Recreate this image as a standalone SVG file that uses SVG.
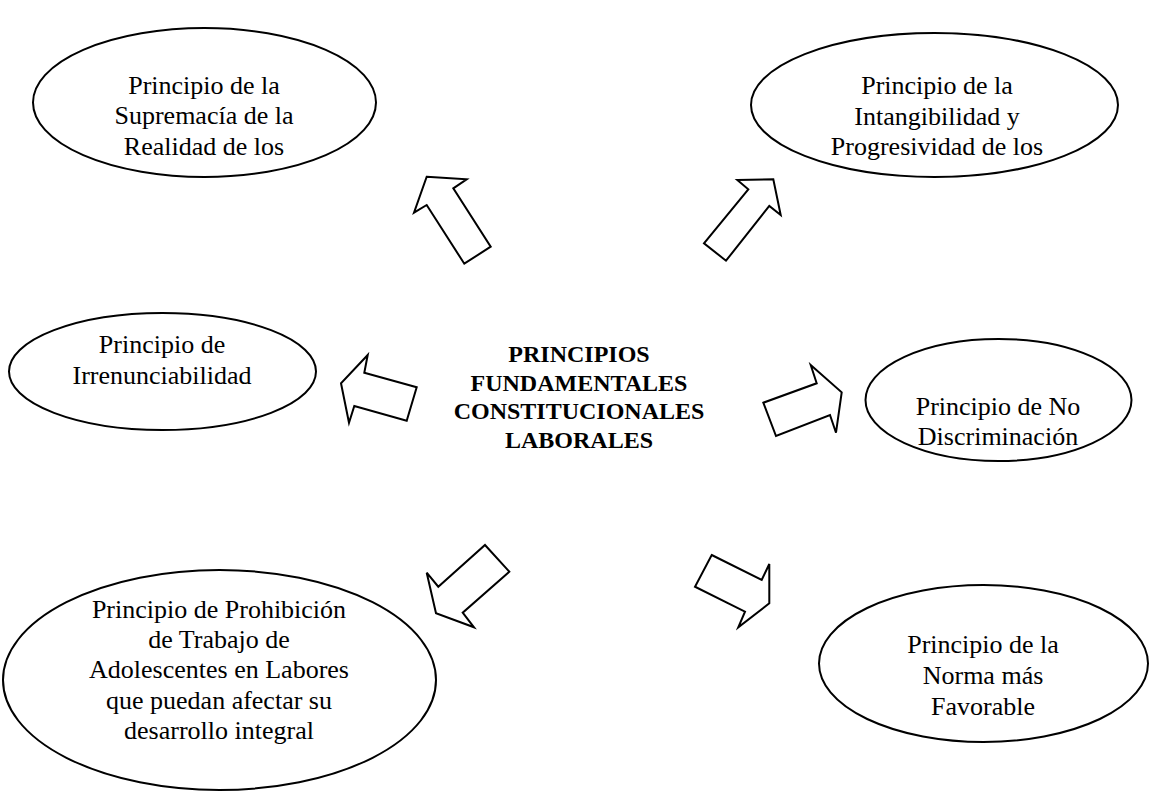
<svg xmlns="http://www.w3.org/2000/svg" width="1156" height="791" viewBox="0 0 1156 791">
<style>
.node ellipse{fill:#fff;stroke:#000;stroke-width:2}
.t{font-family:"Liberation Serif","Times New Roman",serif;font-size:26px;fill:#000;text-anchor:middle}
.b{font-family:"Liberation Serif","Times New Roman",serif;font-size:24px;font-weight:bold;fill:#000;text-anchor:middle}
.arrow{fill:#fff;stroke:#000;stroke-width:2;stroke-linejoin:miter}
</style>
<rect width="1156" height="791" fill="#fff"/>
<g id="connectors">
<polygon class="arrow" points="426.7,176.7 466.7,179.3 453.3,188.3 490.7,246.7 464.3,263.7 426.7,205 414,212.7"/>
<polygon class="arrow" points="737.3,180 773.3,179.3 780.7,215 769.3,206 726,260.7 704,243.3 748.3,189.3"/>
<polygon class="arrow" points="367.7,355 364.3,372.7 416.7,387.3 406.7,420.7 354.3,406 349,422.7 341,383.3"/>
<polygon class="arrow" points="810.7,365 841.7,392.3 836,432.7 830,415 776,436 763.3,402.7 816.7,383.3"/>
<polygon class="arrow" points="485,545 509.3,571.7 462.7,612.7 474,627.3 436,613.3 426.7,572.7 438.3,586.7"/>
<polygon class="arrow" points="711.7,555 761.7,580 769.3,564 769.3,603.3 738.3,627.3 745,611.7 695,586.7"/>
</g>
<g id="center">
<text class="b" x="579" y="362">PRINCIPIOS</text>
<text class="b" x="579" y="391">FUNDAMENTALES</text>
<text class="b" x="579" y="419">CONSTITUCIONALES</text>
<text class="b" x="579" y="448">LABORALES</text>
</g>
<g id="n1" class="node">
<ellipse cx="204.5" cy="102.5" rx="171.5" ry="74.5"/>
<text class="t" x="204" y="94">Principio de la</text>
<text class="t" x="204" y="124">Supremacía de la</text>
<text class="t" x="204" y="155">Realidad de los</text>
</g>
<g id="n2" class="node">
<ellipse cx="934.5" cy="105" rx="183.5" ry="72"/>
<text class="t" x="937" y="94">Principio de la</text>
<text class="t" x="937" y="125">Intangibilidad y</text>
<text class="t" x="937" y="155">Progresividad de los</text>
</g>
<g id="n3" class="node">
<ellipse cx="162.5" cy="371.5" rx="153.5" ry="58.5"/>
<text class="t" x="162" y="353">Principio de</text>
<text class="t" x="162" y="384">Irrenunciabilidad</text>
</g>
<g id="n4" class="node">
<ellipse cx="998.5" cy="400" rx="133" ry="61"/>
<text class="t" x="998" y="415">Principio de No</text>
<text class="t" x="998" y="445">Discriminación</text>
</g>
<g id="n5" class="node">
<ellipse cx="219.5" cy="680" rx="216.5" ry="110"/>
<text class="t" x="219" y="618">Principio de Prohibición</text>
<text class="t" x="219" y="648">de Trabajo de</text>
<text class="t" x="219" y="678">Adolescentes en Labores</text>
<text class="t" x="219" y="709">que puedan afectar su</text>
<text class="t" x="219" y="739">desarrollo integral</text>
</g>
<g id="n6" class="node">
<ellipse cx="983.5" cy="663.5" rx="164.5" ry="78.5"/>
<text class="t" x="983" y="653">Principio de la</text>
<text class="t" x="983" y="684">Norma más</text>
<text class="t" x="983" y="715">Favorable</text>
</g>
</svg>
